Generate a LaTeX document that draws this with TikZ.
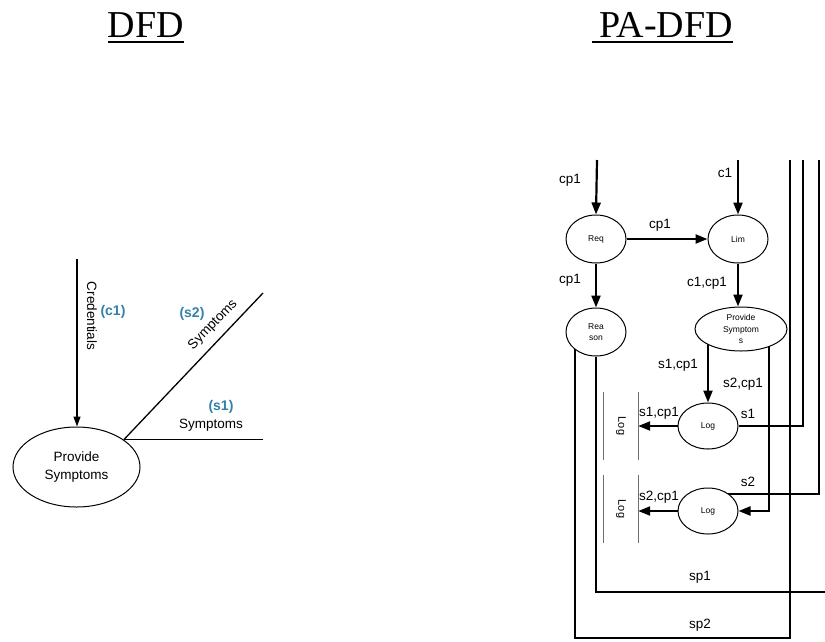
\documentclass[tikz,border=0pt]{standalone}
\usepackage{fontspec}
\usepackage{graphicx}
\setmainfont{Liberation Sans}
\newfontfamily\titlefont{Liberation Serif}
\usetikzlibrary{shapes.geometric,arrows.meta}
\pgfdeclarelayer{bg}
\pgfsetlayers{bg,main}
\definecolor{lblblue}{RGB}{52,128,168}
\definecolor{storegray}{RGB}{110,110,110}
\tikzset{
  proc/.style={ellipse, draw, line width=1pt, fill=white, inner sep=0pt,
    font=\fontsize{8.5}{11.5}\selectfont, align=center},
  bigproc/.style={ellipse, draw, line width=1pt, fill=white, inner sep=0pt,
    font=\fontsize{13.5}{19}\selectfont, align=center},
  flow/.style={line width=2.2pt},
  arr/.style={flow, -{Triangle[length=12pt,width=9pt]}},
  thinflow/.style={line width=1.3pt},
  thinarr/.style={thinflow, -{Triangle[length=10pt,width=7pt]}},
  lbl/.style={font=\fontsize{13.5}{16}\selectfont, inner sep=0pt},
  bluelbl/.style={text=lblblue, font=\fontsize{14}{16}\selectfont\bfseries, inner sep=0pt},
  storebox/.style={minimum width=34pt, minimum height=68pt, inner sep=0pt,
    font=\fontsize{11}{13}\selectfont},
  storeline/.style={draw=storegray, line width=1.3pt},
  titletext/.style={font=\titlefont\fontsize{38}{44}\selectfont, inner sep=0pt, anchor=base},
}
\begin{document}
\begin{tikzpicture}[x=1pt,y=-1pt]
\useasboundingbox (0,0) rectangle (825,641);

% ---------- titles ----------
\node[titletext] (t1) at (146,37) {DFD};
\node[titletext] (t2) at (666,37) {PA-DFD};
\draw[line width=2pt] ([yshift=-5pt]t1.base west) -- ([yshift=-5pt]t1.base east);
\draw[line width=2pt] ([xshift=-7pt,yshift=-5pt]t2.base west) -- ([yshift=-5pt]t2.base east);

% ---------- left: DFD ----------
\node[bigproc, minimum width=127pt, minimum height=80pt] (pse) at (76.5,467) {\raisebox{-4pt}{\parbox{80pt}{\centering Provide\\Symptoms}}};
\coordinate (credtop) at (77,259);
\coordinate (s2end) at (263,293);
\coordinate (s1end) at (263,440);
\draw[thinarr] (credtop) -- (credtop |- pse.north);
\draw[thinflow] (pse.30) -- (s2end);
\draw[thinflow] (pse.30) -- (pse.30 -| s1end);
\node[lbl, rotate=-90] (credl) at (92,316) {Credentials};
\node[bluelbl] (c1l) at (113,312) {(c1)};
\node[bluelbl] (s2l) at (192,314) {(s2)};
\node[lbl, rotate=46] (sympd) at (213,325) {Symptoms};
\node[bluelbl] (s1l) at (221,407) {(s1)};
\node[lbl] (symph) at (211,425) {Symptoms};

% ---------- right: PA-DFD ----------
\node[proc, minimum width=60pt, minimum height=48pt] (req) at (596,239) {Req};
\node[proc, minimum width=60pt, minimum height=48pt] (lim) at (738,239) {Lim};
\node[proc, minimum width=60pt, minimum height=48pt] (rea) at (596,332) {Rea\\son};
\node[proc, minimum width=92pt, minimum height=44pt] (ps) at (741,329) {Provide\\Symptom\\s};
\node[proc, minimum width=60pt, minimum height=46pt] (log1) at (708,426) {Log};
\node[proc, minimum width=60pt, minimum height=46pt] (log2) at (708,511) {Log};

\node[storebox] (st1) at (621,426) {\rotatebox{-90}{Log}};
\node[storebox] (st2) at (621,509) {\rotatebox{-90}{Log}};
\draw[storeline] (st1.north west) -- (st1.south west);
\draw[storeline] (st1.north east) -- (st1.south east);
\draw[storeline] (st2.north west) -- (st2.south west);
\draw[storeline] (st2.north east) -- (st2.south east);

\coordinate (cptop) at (597,160);
\coordinate (c1top) at (738,160);
\coordinate (top3) at (790,160);
\coordinate (top1) at (803,160);
\coordinate (top2) at (819,160);
\coordinate (sp1e) at (825,592);
\coordinate (sp2l) at (575,638);
\coordinate (sp2r) at (790,638);
\coordinate (s2c) at (819,494);
\coordinate (ps2c) at (769,511);

\begin{pgfonlayer}{bg}
\draw[arr] (cptop) -- (req.north);
\draw[arr] (c1top) -- (lim.north);
\draw[arr] (req.east) -- (lim.west);
\draw[arr] (req.south) -- (rea.north);
\draw[arr] (lim.south) -- (lim.south |- ps.north);
\draw[arr] (ps.center -| log1) -- (log1.north);
\draw[arr] (ps.center -| ps2c) -- (ps2c) -- (log2.east);
\draw[arr] (log1.west) -- (st1.east);
\draw[arr] (log2.west) -- (log2.west -| st2.east);
\draw[flow] (top1) -- (top1 |- log1) -- (log1.east);
\draw[flow] (top2) -- (s2c) -- (log2.center |- s2c);
\draw[flow] (rea.south) -- (rea.south |- sp1e) -- (sp1e);
\draw[flow] (top3) -- (sp2r) -- (sp2l) -- (rea.center -| sp2l);
\end{pgfonlayer}

\node[lbl] (lcp1a) at (570,180) {cp1};
\node[lbl] (lc1) at (725,173) {c1};
\node[lbl] (lcp1b) at (660,225) {cp1};
\node[lbl] (lcp1c) at (570,280) {cp1};
\node[lbl] (lc1cp1) at (707,283) {c1,cp1};
\node[lbl] (ls1cp1a) at (678,365) {s1,cp1};
\node[lbl] (ls2cp1a) at (743,384) {s2,cp1};
\node[lbl] (ls1cp1b) at (659,413) {s1,cp1};
\node[lbl] (ls1) at (748,414) {s1};
\node[lbl] (ls2) at (748,482) {s2};
\node[lbl] (ls2cp1b) at (659,497) {s2,cp1};
\node[lbl] (lsp1) at (700,577) {sp1};
\node[lbl] (lsp2) at (700,625) {sp2};
\end{tikzpicture}
\end{document}
